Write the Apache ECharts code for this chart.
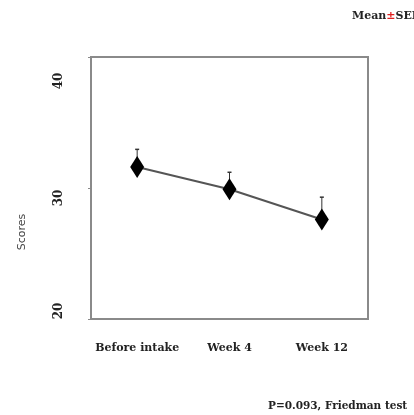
<!DOCTYPE html>
<html>
<head>
<meta charset="utf-8">
<script src="https://cdn.jsdelivr.net/npm/echarts@6/dist/echarts.min.js"></script>
<style>html,body{margin:0;padding:0;background:#fff}#c{width:414px;height:415px}</style>
</head>
<body>
<div id="c"></div>
<script>
var categories = ['Before intake', 'Week 4', 'Week 12'];
var means = [31.6, 29.9, 27.6];
var sems = [1.35, 1.3, 1.7];
var yTicks = [20, 30, 40];

var chart = echarts.init(document.getElementById('c'));
var serif = '"DejaVu Serif", "Liberation Serif", serif';
var lblStyle = { fontFamily: serif, fontWeight: 'bold', fontSize: 12, color: '#222' };
chart.setOption({
  animation: false,
  backgroundColor: '#fff',
  grid: { left: 91, right: 46, top: 57, bottom: 96, show: true, borderColor: '#8a8a8a', borderWidth: 2, backgroundColor: 'transparent' },
  xAxis: {
    type: 'category', data: categories, boundaryGap: true,
    axisLine: { lineStyle: { color: '#8a8a8a', width: 2 } },
    axisTick: { show: false },
    axisLabel: { interval: 0, margin: 24, color: '#222', fontFamily: serif, fontWeight: 'bold', fontSize: 11 }
  },
  yAxis: {
    type: 'value', min: yTicks[0], max: yTicks[yTicks.length - 1], interval: 10,
    splitLine: { show: false },
    axisLine: { show: true, lineStyle: { color: '#8a8a8a', width: 2 } },
    axisTick: { show: true, length: 3, lineStyle: { color: '#8a8a8a', width: 1 } },
    axisLabel: {
      rotate: 90, margin: 32, verticalAlign: 'middle',
      formatter: function (v) { return v === 40 ? '{t|' + v + '}' : (v === 30 ? '{m|' + v + '}' : '{b|' + v + '}'); },
      rich: {
        t: Object.assign({ padding: [0, 48, 0, 0] }, lblStyle),
        m: Object.assign({ padding: [0, 20, 0, 0] }, lblStyle),
        b: Object.assign({ padding: [0, 0, 0, 16] }, lblStyle)
      }
    }
  },
  graphic: [
    { type: 'text', left: 352, top: 11, style: { rich: { a: { fontFamily: serif, fontWeight: 'bold', fontSize: 11, fill: '#222' }, r: { fontFamily: serif, fontWeight: 'bold', fontSize: 11, fill: '#e02020' } }, text: '{a|Mean}{r|±}{a|SEM}' } },
    { type: 'text', left: 268, top: 401, style: { text: 'P=0.093, Friedman test', fontFamily: serif, fontWeight: 'bold', fontSize: 10.5, fill: '#222' } },
    { type: 'text', x: 22, y: 232, rotation: Math.PI / 2, style: { text: 'Scores', fontFamily: '"DejaVu Sans", sans-serif', fontSize: 11, fill: '#444', align: 'center', verticalAlign: 'middle' } }
  ],
  series: [
    {
      type: 'custom',
      data: means.map(function (m, i) { return [i, m, m + sems[i]]; }),
      renderItem: function (params, api) {
        var p0 = api.coord([api.value(0), api.value(1)]);
        var p1 = api.coord([api.value(0), api.value(2)]);
        return {
          type: 'group',
          children: [
            { type: 'line', shape: { x1: p0[0], y1: p0[1], x2: p1[0], y2: p1[1] }, style: { stroke: '#333', lineWidth: 1 } },
            { type: 'line', shape: { x1: p1[0] - 2, y1: p1[1], x2: p1[0] + 2, y2: p1[1] }, style: { stroke: '#333', lineWidth: 1.5 } }
          ]
        };
      },
      z: 1
    },
    {
      type: 'line', data: means,
      symbol: 'diamond', symbolSize: [14, 22],
      itemStyle: { color: '#000' },
      lineStyle: { color: '#555', width: 2 },
      z: 3
    }
  ]
});
</script>
</body>
</html>
